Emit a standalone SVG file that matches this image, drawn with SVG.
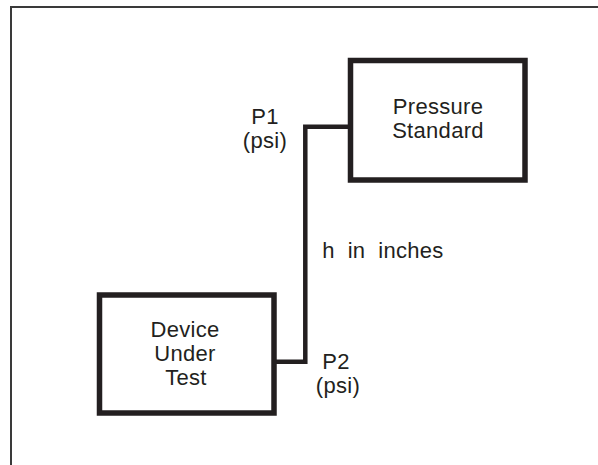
<svg xmlns="http://www.w3.org/2000/svg" width="598" height="465" viewBox="0 0 598 465">
<style>
.box{fill:#fff;stroke:#231f20;stroke-width:5.5}
.conn{fill:none;stroke:#231f20;stroke-width:4.5;stroke-linejoin:miter}
.frame{fill:none;stroke:#3a3a3a;stroke-width:2}
text{font-family:"Liberation Sans",Arial,sans-serif;font-size:22px;letter-spacing:0.3px;fill:#231f20}
.c{text-anchor:middle}
</style>
<rect width="598" height="465" fill="#fff"/>
<path class="frame" d="M11 465 V7 H598"/>
<g id="connectors">
<path class="conn" d="M274 361.7 H305.3 V126.7 H351"/>
</g>
<g id="pressure-standard">
<rect class="box" x="350.5" y="60.5" width="174.5" height="119.5"/>
<text class="c" x="438" y="114.3">Pressure</text>
<text class="c" x="438" y="138.3">Standard</text>
</g>
<g id="device-under-test">
<rect class="box" x="99.5" y="295" width="174.5" height="118"/>
<text class="c" x="185" y="336.7">Device</text>
<text class="c" x="185" y="360.7">Under</text>
<text class="c" x="186" y="384.7">Test</text>
</g>
<g id="labels">
<text class="c" x="265" y="123.5">P1</text>
<text class="c" x="265" y="147.5">(psi)</text>
<text class="c" x="336" y="368.5">P2</text>
<text class="c" x="338" y="392.5">(psi)</text>
<text x="322.3" y="258.3" xml:space="preserve">h  in  inches</text>
</g>
</svg>
